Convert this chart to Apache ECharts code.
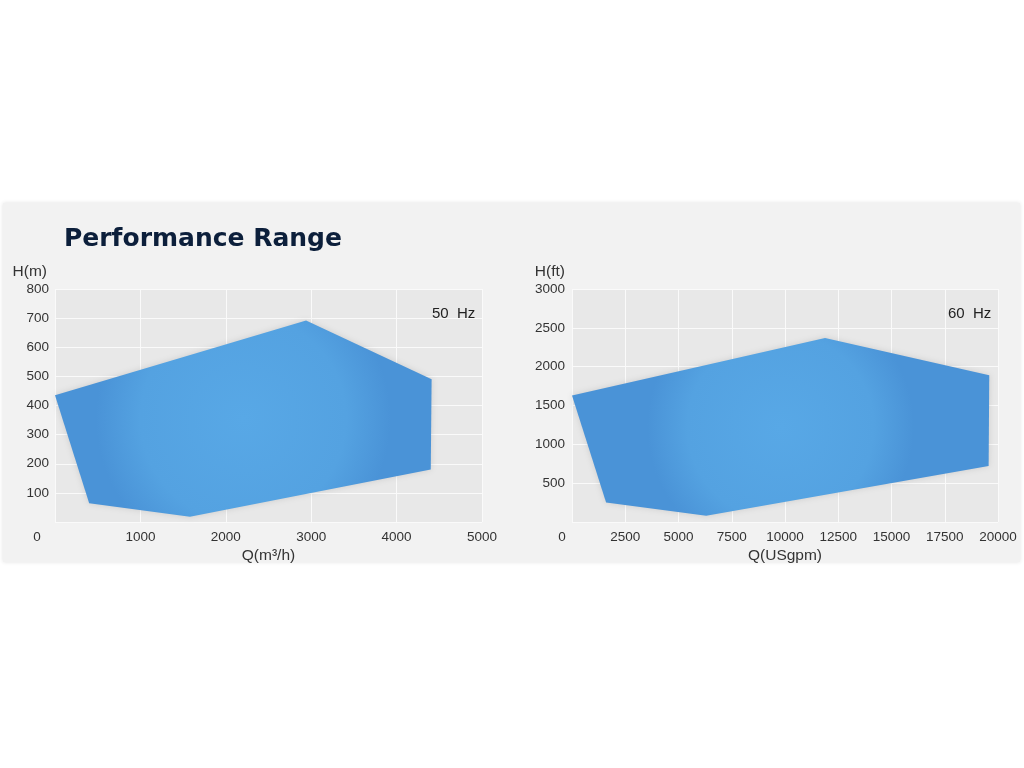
<!DOCTYPE html>
<html>
<head>
<meta charset="utf-8">
<script src="https://cdn.jsdelivr.net/npm/echarts@6/dist/echarts.min.js"></script>
<style>
html,body{margin:0;padding:0;background:#ffffff;}
#chart{width:1024px;height:768px;}
</style>
</head>
<body>
<div id="chart"></div>
<script>
// 50 Hz envelope (Q in m3/h, H in m)
const Q50 = [0, 400, 1580, 4400, 4410, 2940];
const H50 = [435, 64, 18, 180, 490, 692];
// 60 Hz envelope (Q in USgpm, H in ft)
const Q60 = [0, 1600, 6300, 19560, 19590, 11880];
const H60 = [1630, 252, 81, 722, 1888, 2368];

const TITLE = 'Performance Range';
const X_NAMES = ['Q(m³/h)', 'Q(USgpm)'];
const Y_NAMES = ['H(m)', 'H(ft)'];
const HZ_LABELS = ['50  Hz', '60  Hz'];

const chart = echarts.init(document.getElementById('chart'), null, {renderer: 'canvas'});

const labelColor = '#333333';
const FONT = 'Liberation Sans';
const fill = new echarts.graphic.RadialGradient(0.5, 0.5, 0.75, [
  {offset: 0, color: '#58a8e6'},
  {offset: 0.7, color: '#54a2e1'},
  {offset: 1, color: '#4a93d7'}
]);

function polySeries(idx, qs, hs) {
  return {
    type: 'custom',
    xAxisIndex: idx,
    yAxisIndex: idx,
    data: qs.map((q, i) => [q, hs[i]]),
    silent: true,
    renderItem: function (params, api) {
      if (params.dataIndex !== 0) return {type: 'group', children: []};
      const pts = qs.map((q, i) => api.coord([q, hs[i]]));
      return {
        type: 'polygon',
        shape: {points: pts},
        style: {
          fill: fill,
          shadowBlur: 6,
          shadowColor: 'rgba(0,0,0,0.12)'
        }
      };
    }
  };
}

function xAxis(idx, max, interval, zeroPad) {
  return {
    type: 'value',
    gridIndex: idx,
    min: 0, max: max, interval: interval,
    name: X_NAMES[idx],
    nameLocation: 'middle',
    nameGap: 26,
    nameTextStyle: {fontSize: 15.5, color: labelColor, fontFamily: FONT},
    axisLine: {show: false},
    axisTick: {show: false},
    splitLine: {show: true, lineStyle: {color: '#fafafa', width: 1}},
    axisLabel: {
      margin: 8,
      fontSize: 13.5,
      color: labelColor,
      fontFamily: FONT,
      formatter: v => v === 0 ? '{z|0}' : String(v),
      rich: {z: {padding: [0, zeroPad, 0, 0], fontSize: 13.5, color: labelColor, fontFamily: FONT}}
    }
  };
}

function yAxis(idx, max, interval, namePad, margin) {
  return {
    type: 'value',
    gridIndex: idx,
    min: 0, max: max, interval: interval,
    name: Y_NAMES[idx],
    nameLocation: 'end',
    nameGap: 9,
    nameTextStyle: {fontSize: 15.5, color: labelColor, align: 'right', padding: [0, namePad, 0, 0], fontFamily: FONT},
    axisLine: {show: false},
    axisTick: {show: false},
    splitLine: {show: true, lineStyle: {color: '#fafafa', width: 1}},
    axisLabel: {
      margin: margin,
      fontSize: 13.5,
      color: labelColor,
      fontFamily: FONT,
      formatter: v => v === 0 ? '' : String(v)
    }
  };
}

const option = {
  backgroundColor: '#ffffff',
  animation: false,
  graphic: [
    {
      type: 'rect', z: -10, silent: true,
      shape: {x: 3, y: 203, width: 1017, height: 359},
      style: {fill: '#f2f2f2', shadowBlur: 4, shadowColor: 'rgba(0,0,0,0.12)'}
    },
    {
      type: 'text', left: 64, top: 227, silent: true, z: 100,
      style: {text: TITLE, font: 'bold 25px "DejaVu Sans"', fill: '#0c1f3b'}
    },
    {
      type: 'text', left: 432, top: 306, silent: true, z: 100,
      style: {text: HZ_LABELS[0], font: '15px "Liberation Sans"', fill: '#222222'}
    },
    {
      type: 'text', left: 948, top: 306, silent: true, z: 100,
      style: {text: HZ_LABELS[1], font: '15px "Liberation Sans"', fill: '#222222'}
    }
  ],
  grid: [
    {left: 55, top: 289, width: 427, height: 233, show: true, backgroundColor: '#e8e8e8', borderWidth: 0},
    {left: 572, top: 289, width: 426, height: 233, show: true, backgroundColor: '#e8e8e8', borderWidth: 0}
  ],
  xAxis: [xAxis(0, 5000, 1000, 36), xAxis(1, 20000, 2500, 20)],
  yAxis: [yAxis(0, 800, 100, 8, 6), yAxis(1, 3000, 500, 7, 7)],
  series: [polySeries(0, Q50, H50), polySeries(1, Q60, H60)]
};

chart.setOption(option);
</script>
</body>
</html>
